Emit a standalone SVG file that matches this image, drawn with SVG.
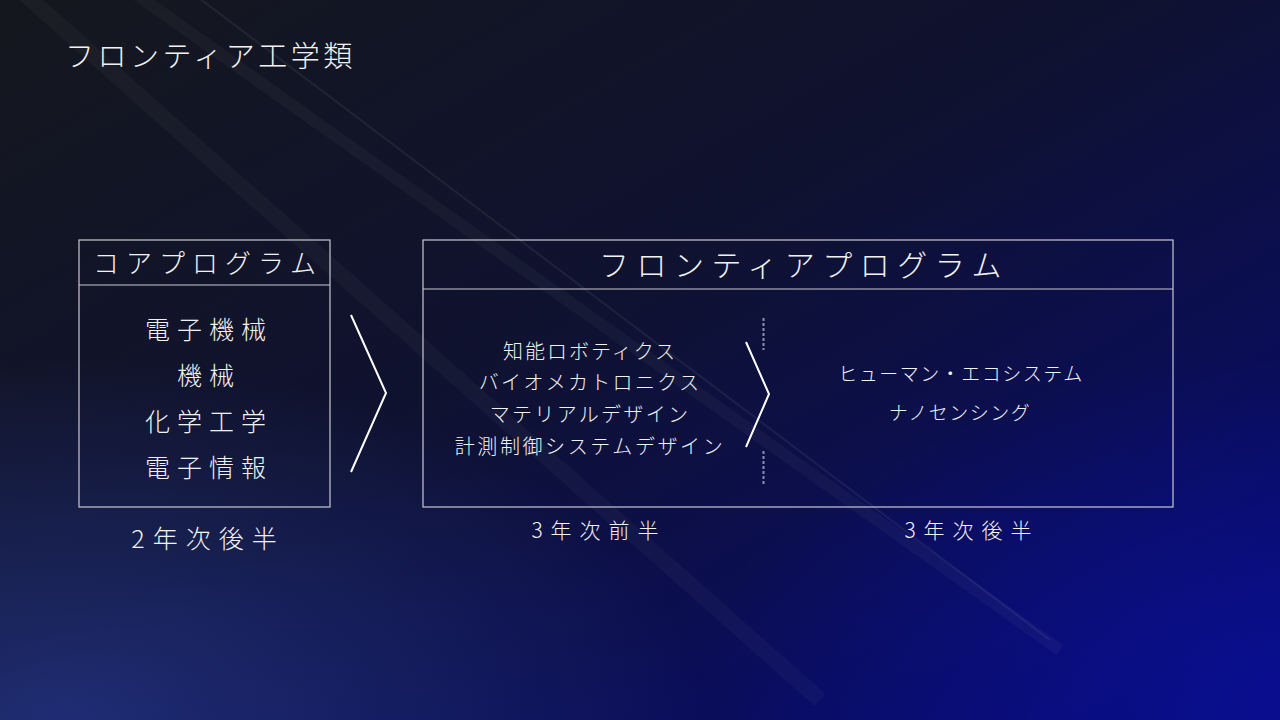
<svg xmlns="http://www.w3.org/2000/svg" width="1280" height="720" viewBox="0 0 1280 720">
<defs>
<linearGradient id="bg" x1="0" y1="0" x2="1" y2="1">
<stop offset="0" stop-color="#15171e"/>
<stop offset="0.45" stop-color="#0f1230"/>
<stop offset="1" stop-color="#070a78"/>
</linearGradient>
<radialGradient id="glow" cx="0.05" cy="1" r="0.5">
<stop offset="0" stop-color="#2a3f9a" stop-opacity="0.6"/>
<stop offset="1" stop-color="#2a3f9a" stop-opacity="0"/>
</radialGradient>
<radialGradient id="glow2" cx="1" cy="0.95" r="0.45">
<stop offset="0" stop-color="#0a10a0" stop-opacity="0.6"/>
<stop offset="1" stop-color="#0a10a0" stop-opacity="0"/>
</radialGradient>
<style>
.t{font-family:"Noto Sans CJK JP","Noto Sans",sans-serif;fill:#f2f2f2;font-weight:300;text-anchor:middle}
.box{fill:none;stroke:#c8c8d0;stroke-width:1.2}
.chev{fill:none;stroke:#ffffff;stroke-width:2}
.streak{stroke:#c8d0c0;stroke-linecap:butt}
</style>
</defs>
<rect width="1280" height="720" fill="url(#bg)"/>
<rect width="1280" height="720" fill="url(#glow)"/>
<rect width="1280" height="720" fill="url(#glow2)"/>
<g id="streaks">
<line class="streak" x1="20" y1="-10" x2="820" y2="700" stroke-width="16" opacity="0.035"/>
<line class="streak" x1="130" y1="-10" x2="1060" y2="650" stroke-width="12" opacity="0.04"/>
<line class="streak" x1="195" y1="-5" x2="1050" y2="640" stroke-width="2" opacity="0.08"/>
</g>
<g id="title"><text class="t" x="65" y="67" font-size="29" style="text-anchor:start" letter-spacing="3.5">フロンティア工学類</text></g>
<g id="core">
<rect class="box" x="79" y="240" width="251" height="267"/>
<line class="box" x1="79" y1="285" x2="330" y2="285"/>
<text class="t" x="208" y="273" font-size="26" letter-spacing="7">コアプログラム</text>
<text class="t" x="209" y="339" font-size="25" letter-spacing="7">電子機械</text>
<text class="t" x="209" y="385" font-size="25" letter-spacing="7">機械</text>
<text class="t" x="209" y="431" font-size="25" letter-spacing="7">化学工学</text>
<text class="t" x="209" y="477" font-size="25" letter-spacing="7">電子情報</text>
<text class="t" x="208" y="548" font-size="25" letter-spacing="8">2年次後半</text>
</g>
<g id="frontier">
<rect class="box" x="423" y="240" width="750" height="267"/>
<line class="box" x1="423" y1="289" x2="1173" y2="289"/>
<text class="t" x="804" y="276" font-size="30" letter-spacing="7.5">フロンティアプログラム</text>
<g id="first-half">
<text class="t" x="590" y="359" font-size="20" letter-spacing="2">知能ロボティクス</text>
<text class="t" x="590" y="390" font-size="20" letter-spacing="2.3">バイオメカトロニクス</text>
<text class="t" x="590" y="422" font-size="20" letter-spacing="2.3">マテリアルデザイン</text>
<text class="t" x="590" y="454" font-size="20" letter-spacing="2.6">計測制御システムデザイン</text>
<text class="t" x="599" y="538" font-size="21" letter-spacing="8">3年次前半</text>
</g>
<line x1="763.5" y1="318" x2="763.5" y2="350" stroke="#8a8fb0" stroke-width="2" stroke-dasharray="3,2"/>
<line x1="763.5" y1="451" x2="763.5" y2="484" stroke="#8a8fb0" stroke-width="2" stroke-dasharray="3,2"/>
<g id="second-half">
<text class="t" x="961" y="381" font-size="19" letter-spacing="1.5">ヒューマン・エコシステム</text>
<text class="t" x="960" y="420" font-size="19" letter-spacing="1.5">ナノセンシング</text>
<text class="t" x="972" y="538" font-size="21" letter-spacing="8">3年次後半</text>
</g>
</g>
<g id="connectors">
<polyline class="chev" points="351,315 386,393 351,472"/>
<polyline class="chev" points="746,342 769,394 746,447" stroke-width="1.8"/>
</g>
</svg>
